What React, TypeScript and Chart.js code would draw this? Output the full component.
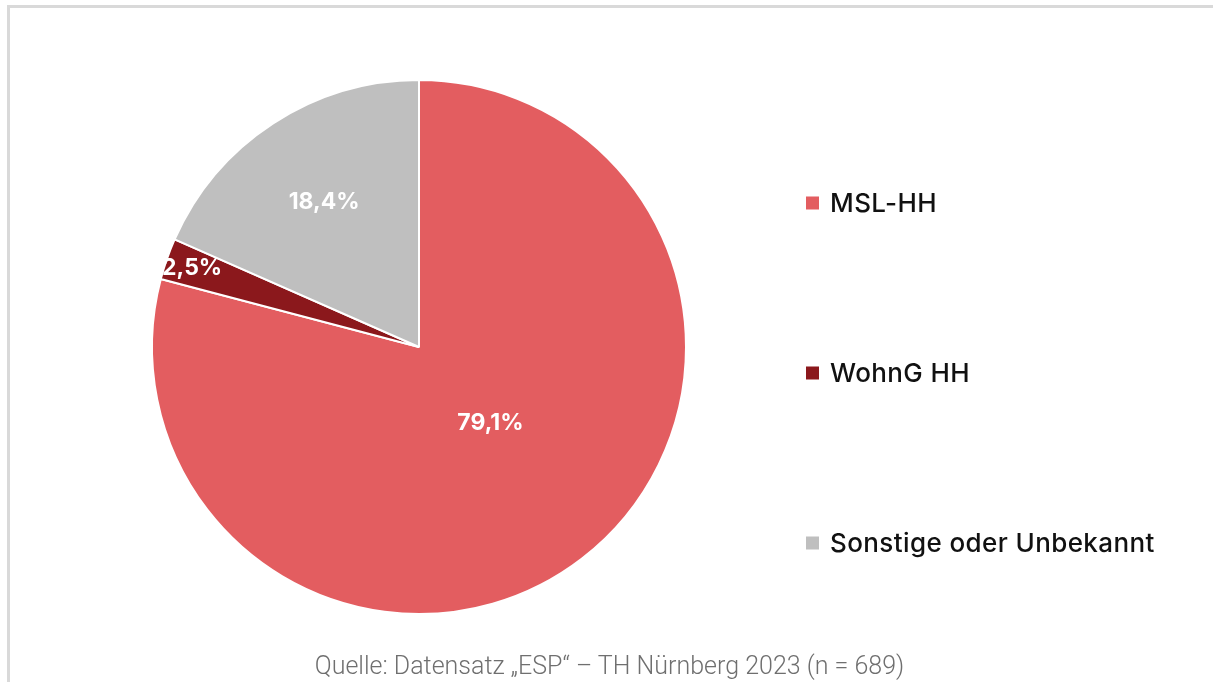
import React, { useEffect, useRef } from "react";
import { Chart, registerables } from "chart.js";

Chart.register(...registerables);

const categories = ["MSL-HH", "WohnG HH", "Sonstige oder Unbekannt"];
const shares = [79.1, 2.5, 18.4];
const valueLabels = ["79,1%", "2,5%", "18,4%"];
const sliceColors = ["#E35D60", "#8B181C", "#BFBFBF"];
const sourceText = "Quelle: Datensatz \u201EESP\u201C \u2013 TH N\u00FCrnberg 2023 (n = 689)";

// label placement (fraction of radius along the slice's mid-angle, plus small angle tweak in radians)
const labelRadiusFractions = [0.39, 0.9, 0.65];
const labelAngleTweaks = [-0.1, 0, 0];

const FONT = "Inter, 'Open Sans', sans-serif";

const sliceLabelPlugin = {
  id: "sliceLabels",
  afterDatasetsDraw(chart: any) {
    const ctx = chart.ctx;
    const meta = chart.getDatasetMeta(0);
    ctx.save();
    ctx.fillStyle = "#ffffff";
    ctx.font = `700 23px ${FONT}`;
    ctx.textAlign = "center";
    ctx.textBaseline = "middle";
    meta.data.forEach((arc: any, i: number) => {
      const p = arc.getProps(["x", "y", "startAngle", "endAngle", "outerRadius"], true);
      const mid = (p.startAngle + p.endAngle) / 2 + labelAngleTweaks[i];
      const r = p.outerRadius * labelRadiusFractions[i];
      ctx.fillText(valueLabels[i], p.x + Math.cos(mid) * r, p.y + Math.sin(mid) * r);
    });
    ctx.restore();
  },
};

const legendPlugin = {
  id: "sideLegend",
  afterDraw(chart: any) {
    const ctx = chart.ctx;
    const labels = chart.data.labels as string[];
    const colors = chart.data.datasets[0].backgroundColor as string[];
    const x0 = 806;
    const y0 = 203;
    const gap = 170;
    const box = 13;
    ctx.save();
    ctx.font = `500 26px ${FONT}`;
    try {
      (ctx as any).letterSpacing = "0.4px";
    } catch (e) {}
    ctx.textAlign = "left";
    ctx.textBaseline = "middle";
    labels.forEach((lab, i) => {
      const cy = y0 + i * gap;
      ctx.fillStyle = colors[i];
      ctx.fillRect(x0, cy - box / 2, box, box);
      ctx.fillStyle = "#111111";
      ctx.fillText(lab, x0 + 24, cy + 1);
    });
    ctx.restore();
  },
};

export default function App() {
  const canvasRef = useRef<HTMLCanvasElement | null>(null);

  useEffect(() => {
    if (!canvasRef.current) return;
    const chart = new Chart(canvasRef.current, {
      type: "pie",
      data: {
        labels: categories,
        datasets: [
          {
            data: shares,
            backgroundColor: sliceColors,
            borderColor: "#ffffff",
            borderWidth: 2,
            hoverBorderWidth: 2,
            hoverOffset: 0,
          },
        ],
      },
      options: {
        responsive: false,
        animation: false,
        devicePixelRatio: 1,
        layout: { padding: { left: 151, top: 79, right: 526, bottom: 67 } },
        plugins: {
          legend: { display: false },
          tooltip: { enabled: false },
          title: { display: false },
        },
      },
      plugins: [sliceLabelPlugin, legendPlugin],
    });
    return () => chart.destroy();
  }, []);

  return (
    <div style={{ position: "absolute", left: 0, top: 0, width: 1213, height: 682, overflow: "hidden", background: "#fff" }}>
      <div
        style={{
          position: "absolute",
          left: 7,
          top: 5,
          width: 1220,
          height: 700,
          borderTop: "3px solid #d9d9d9",
          borderLeft: "3px solid #d9d9d9",
          boxSizing: "border-box",
        }}
      />
      <canvas ref={canvasRef} width={1213} height={682} style={{ position: "absolute", left: 0, top: 0, width: 1213, height: 682 }} />
      <div
        style={{
          position: "absolute",
          left: 0,
          top: 650,
          width: 1219,
          textAlign: "center",
          fontFamily: "Roboto, 'Open Sans', sans-serif",
          fontWeight: 300,
          fontSize: 25,
          color: "#6f6f6f",
          lineHeight: "32px",
          whiteSpace: "nowrap",
        }}
      >
        {sourceText}
      </div>
    </div>
  );
}
